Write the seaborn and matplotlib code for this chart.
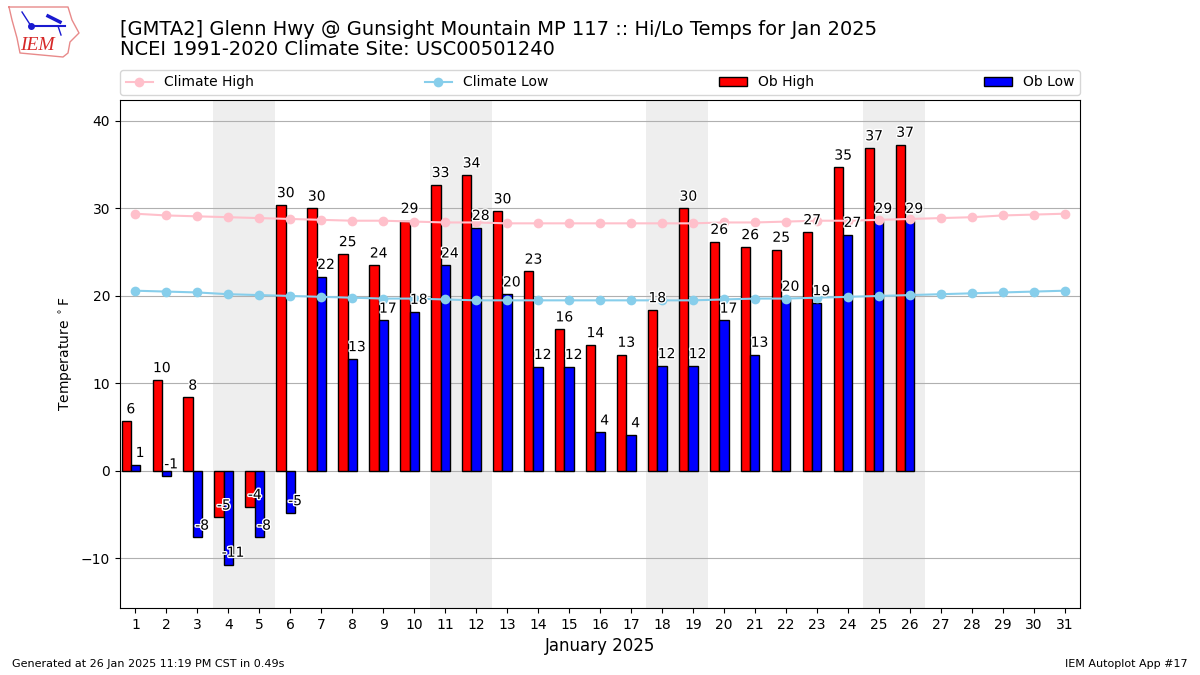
import seaborn as sns

import matplotlib
matplotlib.use("Agg")  # headless mode (no GUI)

import matplotlib.pyplot as plt
import matplotlib.patheffects as pe
import numpy as np
import pandas as pd

TITLE = ("[GMTA2] Glenn Hwy @ Gunsight Mountain MP 117 :: Hi/Lo Temps for Jan 2025\n"
         "NCEI 1991-2020 Climate Site: USC00501240")

all_days = list(range(1, 32))
ob_days = list(range(1, 27))
weekends = [(3.5, 5.5), (10.5, 12.5), (17.5, 19.5), (24.5, 26.5)]

ob_high = [5.7, 10.4, 8.4, -5.3, -4.1, 30.4, 30.0, 24.8, 23.5, 28.6, 32.7, 33.8, 29.7,
           22.8, 16.2, 14.4, 13.3, 18.4, 30.0, 26.2, 25.6, 25.3, 27.3, 34.7, 36.9, 37.3]
ob_low = [0.7, -0.6, -7.6, -10.7, -7.6, -4.8, 22.2, 12.8, 17.2, 18.2, 23.5, 27.8, 20.2,
          11.9, 11.9, 4.4, 4.1, 12.0, 12.0, 17.2, 13.3, 19.7, 19.2, 27.0, 28.6, 28.6]
climate_high = [29.4, 29.2, 29.1, 29.0, 28.9, 28.8, 28.7, 28.6, 28.6, 28.5, 28.4, 28.4,
                28.3, 28.3, 28.3, 28.3, 28.3, 28.3, 28.3, 28.4, 28.4, 28.5, 28.6, 28.6,
                28.7, 28.8, 28.9, 29.0, 29.2, 29.3, 29.4]
climate_low = [20.6, 20.5, 20.4, 20.2, 20.1, 20.0, 19.9, 19.8, 19.7, 19.7, 19.6, 19.5,
               19.5, 19.5, 19.5, 19.5, 19.5, 19.5, 19.5, 19.6, 19.7, 19.7, 19.8, 19.9,
               20.0, 20.1, 20.2, 20.3, 20.4, 20.5, 20.6]


def draw_logo(fig):
    # small IEM logo, drawn in pixel space of its own axes
    logo = fig.add_axes([0, 0.91, 0.075, 0.09])
    logo.set_xlim(0, 90)
    logo.set_ylim(60.75, 0)
    logo.axis("off")
    outline_x = [9, 68, 72, 79, 70, 68, 63, 20, 17, 12, 9]
    outline_y = [7, 7, 20, 33, 42, 53, 57, 53, 38, 20, 7]
    logo.plot(outline_x, outline_y, color="#e88a8a", lw=1)
    logo.plot([31, 65], [26, 26], color="#1a1ad0", lw=1.5)
    logo.plot([22, 31], [12, 26], color="#1a1ad0", lw=1)
    logo.plot([58, 61], [26, 35], color="#1a1ad0", lw=1)
    logo.plot([48, 60], [16, 22], color="#1a1ad0", lw=2.5)
    logo.plot([31], [26], "o", color="#1a1ad0", ms=4)
    logo.text(37, 45, "IEM", color="#d62828", fontsize=14, style="italic",
              family="Liberation Serif", ha="center", va="center")


def plot_temps():
    fig = plt.figure(figsize=(12, 6.75), dpi=100)
    ax = fig.add_axes([0.1, 0.0993, 0.8, 0.7526])

    for start, end in weekends:
        ax.axvspan(start, end, color="#eeeeee", zorder=0, lw=0)

    df = pd.DataFrame({"day": ob_days, "high": ob_high, "low": ob_low})
    df["high_x"] = df["day"] - 0.3

    sns.barplot(data=df, x="high_x", y="high", native_scale=True, width=0.3, color="red",
                saturation=1, edgecolor="black", linewidth=1, label="Ob High", ax=ax)
    sns.barplot(data=df, x="day", y="low", native_scale=True, width=0.3, color="blue",
                saturation=1, edgecolor="black", linewidth=1, label="Ob Low", ax=ax)

    sns.lineplot(x=all_days, y=climate_high, color="pink", marker="o", markersize=7,
                 markeredgewidth=0, lw=1.5, label="Climate High", ax=ax)
    sns.lineplot(x=all_days, y=climate_low, color="skyblue", marker="o", markersize=7,
                 markeredgewidth=0, lw=1.5, label="Climate Low", ax=ax)

    halo = [pe.withStroke(linewidth=2, foreground="white")]
    for day, high, low in zip(ob_days, ob_high, ob_low):
        ax.text(day - 0.15, high + 0.55, str(round(high)), ha="center", va="bottom",
                fontsize=10, path_effects=halo)
        ax.text(day + 0.15, low + 0.55, str(round(low)), ha="center", va="bottom",
                fontsize=10, path_effects=halo)

    ax.set_axisbelow(True)
    ax.grid(True, axis="y", color="#b0b0b0", lw=0.8)
    ax.grid(False, axis="x")
    ax.set_xticks(all_days)
    ax.set_xticklabels([str(d) for d in all_days])
    ax.set_yticks(np.arange(-10, 41, 10))
    ax.set_xlim(0.5, 31.5)
    ax.set_ylim(-15.66, 42.4)
    ax.set_xlabel("January 2025", fontsize=12)
    ax.set_ylabel(r"Temperature $^\circ$F", fontsize=10)

    handles, labels = ax.get_legend_handles_labels()
    by_label = dict(zip(labels, handles))
    order = ["Climate High", "Climate Low", "Ob High", "Ob Low"]
    ax.legend([by_label[k] for k in order], order, ncol=4, mode="expand", loc="lower left",
              bbox_to_anchor=(0, 1.0098, 1, 0.05), borderaxespad=0, fontsize=10)

    fig.text(0.1, 0.9125, TITLE, fontsize=14, ha="left", va="bottom", linespacing=1.1)
    fig.text(0.01, 0.0125, "Generated at 26 Jan 2025 11:19 PM CST in 0.49s", fontsize=8)
    fig.text(0.99, 0.0125, "IEM Autoplot App #17", fontsize=8, ha="right")
    draw_logo(fig)

    fig.savefig("out.png", dpi=100)


if __name__ == "__main__":
    plot_temps()
